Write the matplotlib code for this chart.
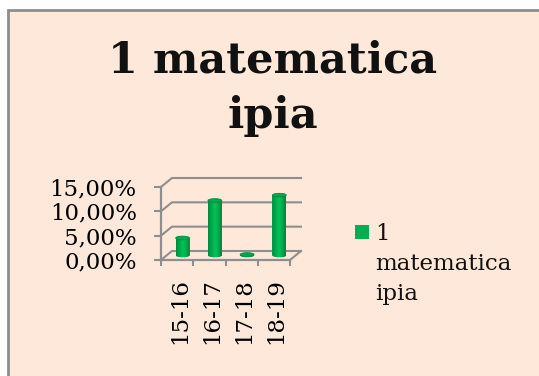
import numpy as np
import matplotlib
matplotlib.use("Agg")
import matplotlib.pyplot as plt
from matplotlib.colors import LinearSegmentedColormap
from matplotlib.legend_handler import HandlerPatch
from matplotlib.patches import Ellipse, Patch, Rectangle
from matplotlib.path import Path
from matplotlib.ticker import FuncFormatter
from matplotlib.transforms import Affine2D

categories = ["15-16", "16-17", "17-18", "18-19"]
values = [3.6, 11.3, 0.2, 12.4]
y_ticks = [0, 5, 10, 15]
series_name = "1\nmatematica\nipia"
title = "1 matematica\nipia"

W, H = 539, 376
BG = "#FEE8D9"
GREY = "#8E8E8E"
GREEN = "#00B050"
plt.rcParams["font.family"] = ["DejaVu Serif"]

fig = plt.figure(figsize=(W / 100, H / 100), dpi=100, facecolor="white")
fig.patches.append(Rectangle((8 / W, -0.05), 1.1, 1 - 10 / H + 0.05, transform=fig.transFigure,
                             facecolor=BG, edgecolor=GREY, linewidth=2, zorder=-1))

# front of the plot box, in pixels from the top left
left, right, top, bottom = 161, 290, 187, 260
ax = fig.add_axes([left / W, 1 - bottom / H, (right - left) / W, (bottom - top) / H])
ax.patch.set_alpha(0)

# depth of the fake 3d box in data units
dx = 0.34
dy = 1.85

for s in ["top", "right"]:
    ax.spines[s].set_visible(False)
for s in ["left", "bottom"]:
    ax.spines[s].set_color(GREY)
    ax.spines[s].set_linewidth(1.6)

for v in y_ticks:
    ax.plot([0, dx, 4 + dx], [v, v + dy, v + dy], color=GREY, lw=1.5, clip_on=False, zorder=1)
ax.plot([4, 4 + dx], [0, dy], color=GREY, lw=1.5, clip_on=False, zorder=1)

ax.set_yticks(y_ticks)
ax.yaxis.set_major_formatter(FuncFormatter(lambda v, p: f"{v:.2f}".replace(".", ",") + "%"))
ax.set_xticks(range(5))
ax.set_xticklabels([])
ax.set_xticks(np.arange(4) + 0.58, categories, minor=True, rotation=90)
ax.tick_params(axis="y", length=5, width=1.5, color=GREY, labelsize=16.5, pad=12.5)
ax.tick_params(axis="x", which="major", length=4, width=1.5, color=GREY)
ax.tick_params(axis="x", which="minor", length=0, labelsize=16.5, pad=13)

# cylinders
cmap = LinearSegmentedColormap.from_list("cyl", ["#008A3E", "#00A84B", "#00C45A", "#00A84B", "#008038"])
grad = np.linspace(0, 1, 64).reshape(1, -1)
bw = 0.43
eh = 0.75
for i, v in enumerate(values):
    xc = i + 0.5 + dx / 2
    y0 = dy / 2
    ax.bar(xc, v, bw, bottom=y0, color=GREEN, zorder=3, clip_on=False)
    im = ax.imshow(grad, extent=[xc - bw / 2, xc + bw / 2, y0 - eh, y0 + v], aspect="auto",
                   cmap=cmap, zorder=4)
    low = Path.unit_circle().transformed(Affine2D().scale(bw / 2, eh / 2).translate(xc, y0))
    rect = Path.unit_rectangle().transformed(Affine2D().scale(bw, v).translate(xc - bw / 2, y0))
    im.set_clip_path(Path.make_compound_path(rect, low), ax.transData)
    ax.add_patch(Ellipse((xc, y0 + v), bw, eh, facecolor="#00A94C", edgecolor="#008A3E",
                         linewidth=0.6, zorder=5, clip_on=False))
ax.set_xlim(0, 4)
ax.set_ylim(0, 15)

fig.text(273 / W, 1 - 88 / H, title, ha="center", va="center", fontsize=31, fontweight="bold",
         linespacing=1.4, color="#111111")


def square(legend, orig_handle, xdescent, ydescent, width, height, fontsize):
    return Rectangle((0, 24), 14 * 0.72, 14 * 0.72)


leg = fig.legend(handles=[Patch(facecolor=GREEN, edgecolor="none", label=series_name)], loc="upper left",
                 bbox_to_anchor=(334 / W, 1 - 202 / H), frameon=False, fontsize=16.5,
                 handlelength=0.7, handletextpad=0.2, labelspacing=0,
                 handler_map={Patch: HandlerPatch(patch_func=square)})
leg.get_texts()[0].set_linespacing(1.47)
leg.get_texts()[0].set_color("#111111")

fig.savefig("out.png", dpi=100, facecolor="white")
